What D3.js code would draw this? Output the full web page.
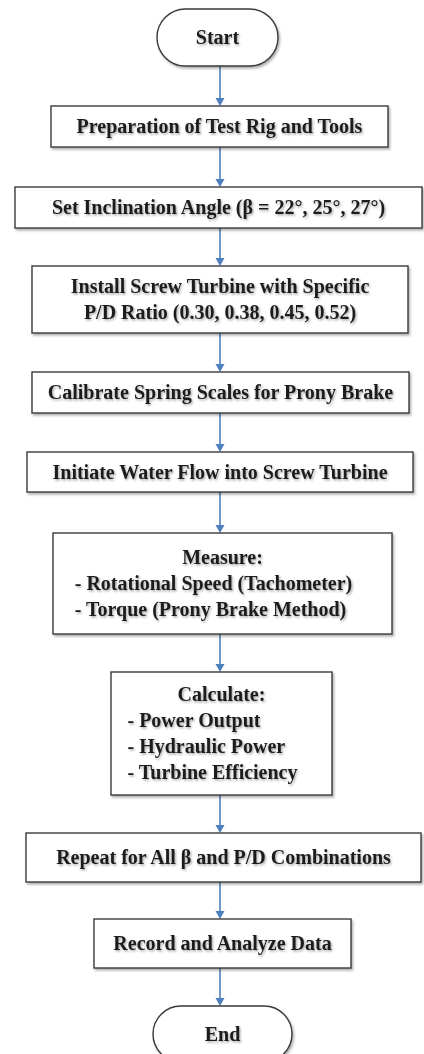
<!DOCTYPE html>
<html>
<head>
<meta charset="utf-8">
<script src="https://cdn.jsdelivr.net/npm/d3@7"></script>
<style>
  html, body { margin: 0; padding: 0; background: #fff; }
  svg { display: block; }
</style>
</head>
<body>
<div id="chart"></div>
<script>
// ---- flowchart content ----
const stepLines = [
    ["Start"],
    ["Preparation of Test Rig and Tools"],
    ["Set Inclination Angle (β = 22°, 25°, 27°)"],
    ["Install Screw Turbine with Specific", "P/D Ratio (0.30, 0.38, 0.45, 0.52)"],
    ["Calibrate Spring Scales for Prony Brake"],
    ["Initiate Water Flow into Screw Turbine"],
    ["Measure:", "- Rotational Speed (Tachometer)", "- Torque (Prony Brake Method)"],
    ["Calculate:", "- Power Output", "- Hydraulic Power", "- Turbine Efficiency"],
    ["Repeat for All β and P/D Combinations"],
    ["Record and Analyze Data"],
    ["End"]
];
const stepShapes = ["terminal", "process", "process", "process", "process", "process",
                    "process", "process", "process", "process", "terminal"];

// box geometry (layout only)
const boxLayout = [
    {x0: 157, x1: 278, y0: 9,    y1: 66},
    {x0: 51,  x1: 388, y0: 106,  y1: 147},
    {x0: 15,  x1: 422, y0: 187,  y1: 228},
    {x0: 32,  x1: 408, y0: 266,  y1: 333},
    {x0: 32,  x1: 409, y0: 372,  y1: 413},
    {x0: 27,  x1: 413, y0: 452,  y1: 492},
    {x0: 53,  x1: 392, y0: 533,  y1: 634},
    {x0: 111, x1: 332, y0: 672,  y1: 795},
    {x0: 26,  x1: 421, y0: 833,  y1: 882},
    {x0: 94,  x1: 351, y0: 919,  y1: 968},
    {x0: 153, x1: 292, y0: 1006, y1: 1062}
];

const CONFIG = {
    width: 424,
    height: 1054,
    arrowX: 220,
    fontSize: 20,
    lineHeight: 26,
    bulletShift: 9,
    font: "'Liberation Serif', 'Times New Roman', serif",
    textColor: "#1c1c1c",
    boxStroke: "#3a3a3a",
    arrowColor: "#4f7fbd"
};

const steps = stepLines.map((lines, i) => ({
    id: i,
    lines: lines,
    shape: stepShapes[i],
    ...boxLayout[i]
}));

const svg = d3.select("#chart").append("svg")
    .attr("width", CONFIG.width)
    .attr("height", CONFIG.height);

svg.append("rect")
    .attr("width", CONFIG.width)
    .attr("height", CONFIG.height)
    .attr("fill", "#fff");

const defs = svg.append("defs");

// 文字阴影
defs.append("filter")
    .attr("id", "text-shadow")
    .attr("x", "-10%").attr("y", "-30%")
    .attr("width", "120%").attr("height", "160%")
    .append("feDropShadow")
    .attr("dx", 1.2).attr("dy", 1.5)
    .attr("stdDeviation", 1.1)
    .attr("flood-color", "#000")
    .attr("flood-opacity", 0.35);

// 方框阴影
defs.append("filter")
    .attr("id", "box-shadow")
    .attr("x", "-5%").attr("y", "-10%")
    .attr("width", "115%").attr("height", "130%")
    .append("feDropShadow")
    .attr("dx", 1.5).attr("dy", 2)
    .attr("stdDeviation", 1.2)
    .attr("flood-color", "#000")
    .attr("flood-opacity", 0.3);

// ---- arrows ----
const links = d3.pairs(steps);
const arrows = svg.selectAll(".link")
    .data(links)
    .join("g")
    .attr("class", "link");

arrows.append("line")
    .attr("x1", CONFIG.arrowX)
    .attr("x2", CONFIG.arrowX)
    .attr("y1", d => d[0].y1)
    .attr("y2", d => d[1].y0 - 6)
    .attr("stroke", CONFIG.arrowColor)
    .attr("stroke-width", 1.6);

arrows.append("path")
    .attr("d", d => {
        const x = CONFIG.arrowX, y = d[1].y0;
        return `M${x - 4.5},${y - 8}L${x + 4.5},${y - 8}L${x},${y}Z`;
    })
    .attr("fill", CONFIG.arrowColor);

// ---- boxes ----
const nodes = svg.selectAll(".node")
    .data(steps)
    .join("g")
    .attr("class", "node");

nodes.append("rect")
    .attr("x", d => d.x0)
    .attr("y", d => d.y0)
    .attr("width", d => d.x1 - d.x0)
    .attr("height", d => d.y1 - d.y0)
    .attr("rx", d => d.shape === "terminal" ? (d.y1 - d.y0) / 2 : 0)
    .attr("fill", "#fff")
    .attr("stroke", CONFIG.boxStroke)
    .attr("stroke-width", 1.4)
    .attr("filter", "url(#box-shadow)");

// ---- labels ----
nodes.each(function(d) {
    const g = d3.select(this);
    const cx = (d.x0 + d.x1) / 2;
    const cy = (d.y0 + d.y1) / 2;
    const n = d.lines.length;
    const capHalf = CONFIG.fontSize * 0.33;

    const texts = g.selectAll("text.label")
        .data(d.lines)
        .join("text")
        .attr("class", "label")
        .attr("y", (t, i) => cy + (i - (n - 1) / 2) * CONFIG.lineHeight + capHalf)
        .attr("font-family", CONFIG.font)
        .attr("font-weight", "bold")
        .attr("font-size", CONFIG.fontSize)
        .attr("fill", CONFIG.textColor)
        .attr("filter", "url(#text-shadow)")
        .text(t => t);

    // bullet lines: left-aligned block, roughly centred on the box
    const bullets = texts.filter(t => t.startsWith("- "));
    if (bullets.empty()) {
        texts.attr("x", cx).attr("text-anchor", "middle");
    } else {
        let maxW = 0;
        bullets.each(function() { maxW = Math.max(maxW, this.getComputedTextLength()); });
        texts.filter(t => !t.startsWith("- "))
            .attr("x", cx).attr("text-anchor", "middle");
        bullets.attr("x", cx - maxW / 2 - CONFIG.bulletShift).attr("text-anchor", "start");
    }
});
</script>
</body>
</html>
